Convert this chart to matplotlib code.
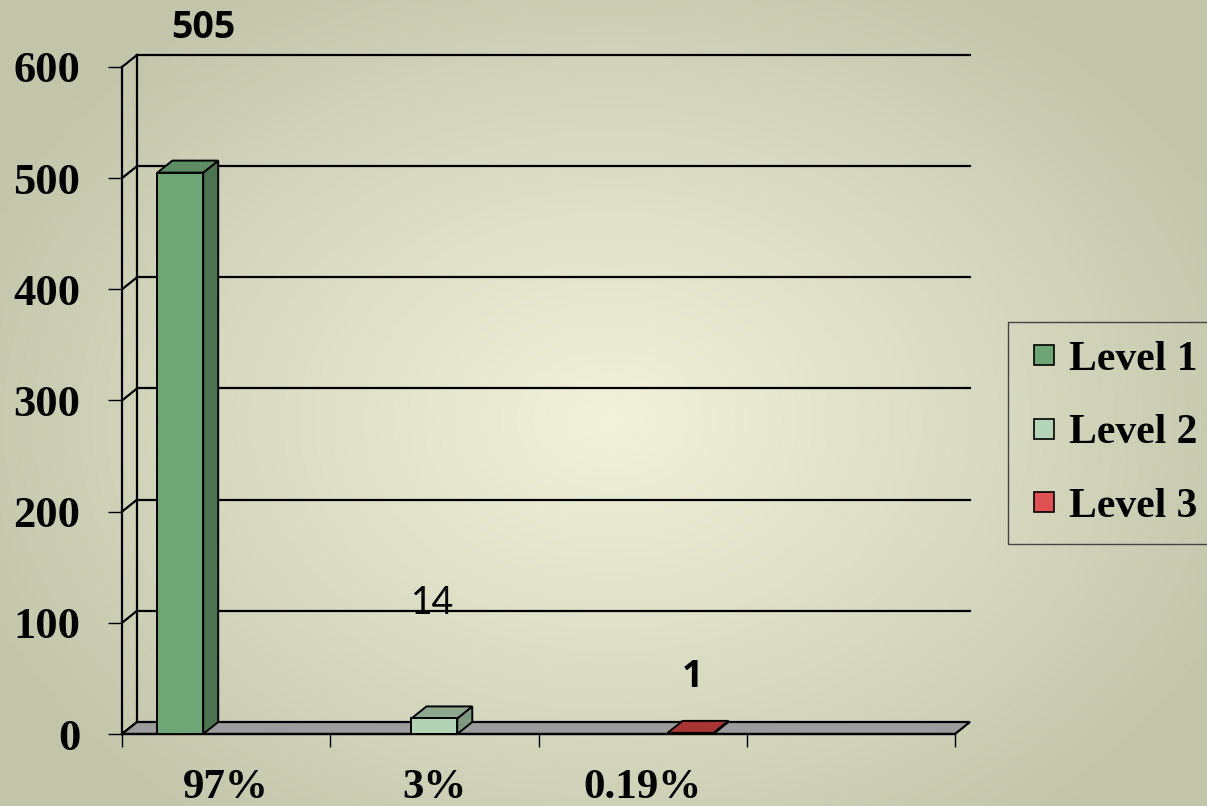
import numpy as np
import matplotlib
matplotlib.use("Agg")
from matplotlib import pyplot as plt
from matplotlib.patches import Polygon
from matplotlib.lines import Line2D

# data
levels = ["Level 1", "Level 2", "Level 3"]
counts = [505, 14, 1]
cat_labels = ["97%", "3%", "0.19%", ""]
bar_left = [0.17, 1.39, 2.62]
bar_w = 0.22
front_col = ["#70a676", "#b2d3b6", "#b83c3c"]
top_col = ["#5f8d64", "#8da88f", "#a83434"]
side_col = ["#4b7350", "#7d9880", "#8a2a2a"]
legend_col = ["#6ea574", "#b4d5b9", "#e05252"]
count_pos = [(0.39, 635), (1.49, 118), (2.74, 51)]
count_style = [("Open Sans", "bold"), ("Lato", "normal"), ("Open Sans", "bold")]

W, H = 1207, 806
fig = plt.figure(figsize=(W / 100, H / 100), dpi=100)

# background radial gradient
bg = fig.add_axes([0, 0, 1, 1])
yy, xx = np.mgrid[0:H, 0:W]
r = np.sqrt(((xx - 610) / 700.0) ** 2 + ((yy - 420) / 520.0) ** 2)
r = np.clip(r, 0, 1)
c0 = np.array([242, 242, 220]) / 255.0
c1 = np.array([194, 197, 170]) / 255.0
img = c0[None, None, :] * (1 - r[..., None]) + c1[None, None, :] * r[..., None]
bg.imshow(img, aspect="auto", extent=[0, 1, 0, 1])
bg.axis("off")

ax = fig.add_axes([122 / W, (H - 734) / H, 833 / W, 667 / H])
ax.patch.set_alpha(0)
ax.set_xlim(0, 4)
ax.set_ylim(0, 600)
dx, dy = 0.072, 10.8

# side wall + back wall grid
for v in range(0, 601, 100):
    ax.plot([0, dx], [v, v + dy], color="black", lw=1.6, clip_on=False, zorder=2)
    if v > 0:
        ax.plot([dx, 4 + dx], [v + dy, v + dy], color="black", lw=1.6, clip_on=False, zorder=2)
ax.plot([dx, dx], [dy, 600 + dy], color="black", lw=1.6, clip_on=False, zorder=2)

# floor
ax.add_patch(Polygon([(0, 0), (4, 0), (4 + dx, dy), (dx, dy)], closed=True,
                     facecolor="#9c9c9c", edgecolor="black", lw=1.6, clip_on=False, zorder=3))

# bars
for x0, h, fc, tc, sc in zip(bar_left, counts, front_col, top_col, side_col):
    x1 = x0 + bar_w
    ax.add_patch(Polygon([(x1, 0), (x1 + dx, dy), (x1 + dx, h + dy), (x1, h)],
                         facecolor=sc, edgecolor="black", lw=1.4, clip_on=False, zorder=4))
    ax.add_patch(Polygon([(x0, h), (x1, h), (x1 + dx, h + dy), (x0 + dx, h + dy)],
                         facecolor=tc, edgecolor="black", lw=1.4, clip_on=False, zorder=4))
    ax.bar(x0, h, width=bar_w, align="edge", color=fc, edgecolor="black", lw=1.4,
           clip_on=False, zorder=5)

for (tx, ty), n, (fam, wt) in zip(count_pos, counts, count_style):
    ax.text(tx, ty, str(n), ha="center", va="center", fontsize=27, fontweight=wt,
            family=fam, zorder=6, clip_on=False)

for s in ["top", "right"]:
    ax.spines[s].set_visible(False)
ax.spines["left"].set_linewidth(1.6)
ax.spines["bottom"].set_linewidth(1.6)
ax.spines["bottom"].set_zorder(3.5)

ax.set_yticks(range(0, 601, 100))
ax.set_yticklabels([str(v) for v in range(0, 601, 100)], family="Liberation Serif",
                   fontweight="bold", fontsize=32)
ax.tick_params(axis="y", direction="out", length=10, width=1, pad=20)

ax.set_xticks(range(0, 5))
ax.set_xticklabels([])
ax.set_xticks([0.5, 1.5, 2.5, 3.5], minor=True)
ax.set_xticklabels(cat_labels, minor=True, family="Liberation Serif",
                   fontweight="bold", fontsize=31)
ax.tick_params(axis="x", which="major", direction="out", length=9.5, width=1)
ax.tick_params(axis="x", which="minor", length=0, pad=25)

handles = [Line2D([], [], ls="none", marker="s", markersize=14, markerfacecolor=c,
                  markeredgecolor="black", markeredgewidth=1.2) for c in legend_col]
leg = fig.legend(handles, levels, loc="center left", bbox_to_anchor=(1008 / W, 1 - 433 / H),
                 borderaxespad=0, prop={"family": "Liberation Serif", "weight": "bold", "size": 30},
                 handlelength=0.85, handletextpad=0.16, labelspacing=0.85,
                 borderpad=0.45, fancybox=False, facecolor="none", framealpha=1)
leg.get_frame().set_edgecolor("#444444")
leg.get_frame().set_linewidth(1.0)

fig.savefig("out.png", dpi=100)
